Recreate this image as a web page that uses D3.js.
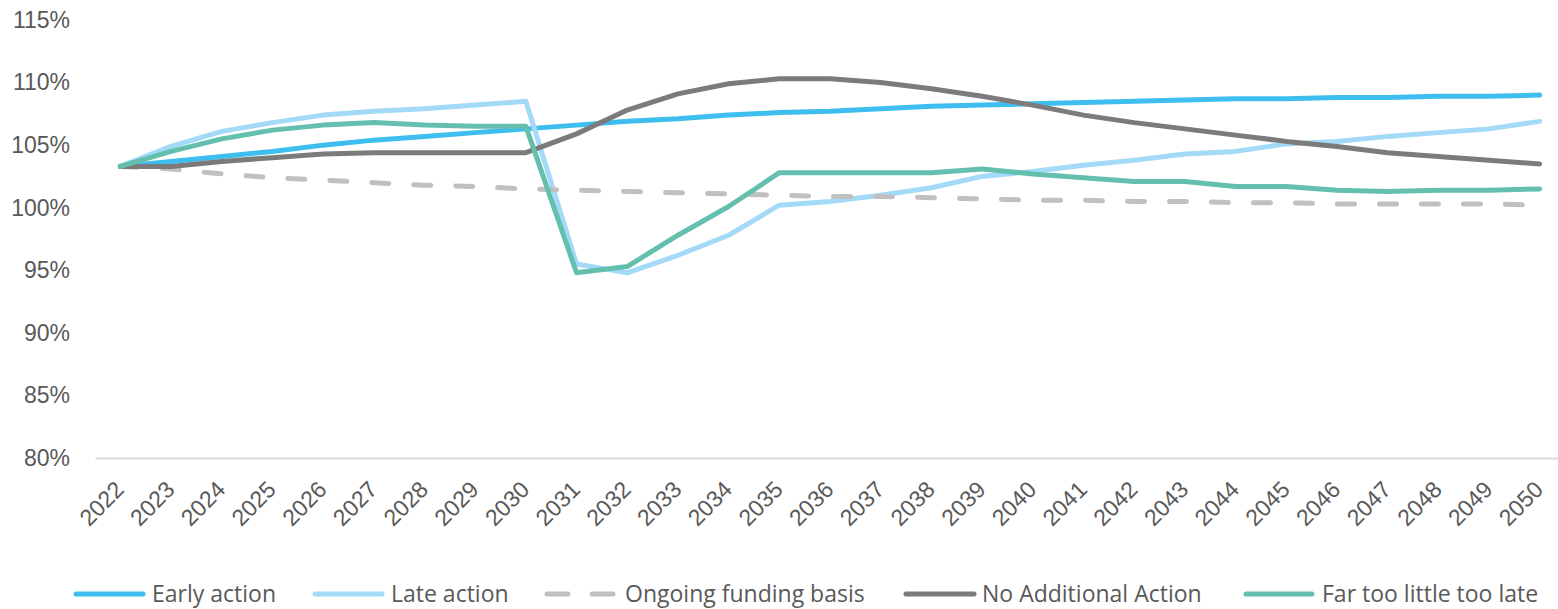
<!DOCTYPE html>
<html>
<head>
<meta charset="utf-8">
<script src="https://cdn.jsdelivr.net/npm/d3@7"></script>
<style>
  html, body { margin: 0; padding: 0; background: #fff; }
  svg { display: block; font-family: "Open Sans", "Noto Sans", sans-serif; }
</style>
</head>
<body>
<svg id="chart" width="1558" height="609"></svg>
<script>
// Funding level projections, 2022-2050
const years = d3.range(2022, 2051).map(String);

const earlyAction = [103.3, 103.7, 104.1, 104.5, 105.0, 105.4, 105.7, 106.0, 106.3, 106.6,
  106.9, 107.1, 107.4, 107.6, 107.7, 107.9, 108.1, 108.2, 108.3, 108.4,
  108.5, 108.6, 108.7, 108.7, 108.8, 108.8, 108.9, 108.9, 109.0];

const lateAction = [103.3, 104.9, 106.1, 106.8, 107.4, 107.7, 107.9, 108.2, 108.5, 95.5,
  94.8, 96.2, 97.8, 100.2, 100.5, 101.0, 101.6, 102.5, 102.9, 103.4,
  103.8, 104.3, 104.5, 105.1, 105.3, 105.7, 106.0, 106.3, 106.9];

const ongoingBasis = [103.3, 103.1, 102.7, 102.4, 102.2, 102.0, 101.8, 101.7, 101.5, 101.4,
  101.3, 101.2, 101.1, 101.0, 100.9, 100.9, 100.8, 100.7, 100.6, 100.6,
  100.5, 100.5, 100.4, 100.4, 100.3, 100.3, 100.3, 100.3, 100.2];

const noAdditional = [103.3, 103.3, 103.7, 104.0, 104.3, 104.4, 104.4, 104.4, 104.4, 105.9,
  107.8, 109.1, 109.9, 110.3, 110.3, 110.0, 109.5, 108.9, 108.2, 107.4,
  106.8, 106.3, 105.8, 105.3, 104.9, 104.4, 104.1, 103.8, 103.5];

const farTooLate = [103.3, 104.5, 105.5, 106.2, 106.6, 106.8, 106.6, 106.5, 106.5, 94.8,
  95.3, 97.8, 100.1, 102.8, 102.8, 102.8, 102.8, 103.1, 102.7, 102.4,
  102.1, 102.1, 101.7, 101.7, 101.4, 101.3, 101.4, 101.4, 101.5];

const yTicks = [80, 85, 90, 95, 100, 105, 110, 115];

const series = [
  { name: "Early action", values: earlyAction, color: "#3EBEEE", dash: null },
  { name: "Late action", values: lateAction, color: "#A3DAF7", dash: null },
  { name: "Ongoing funding basis", values: ongoingBasis, color: "#C0C0C0", dash: "17,25" },
  { name: "No Additional Action", values: noAdditional, color: "#7B7B7B", dash: null },
  { name: "Far too little too late", values: farTooLate, color: "#64BFAF", dash: null }
];

const svg = d3.select("#chart");
const plot = { left: 95, right: 1565, top: 20, bottom: 458 };

const x = d3.scaleBand().domain(years).range([plot.left, plot.right]);
const y = d3.scaleLinear().domain([80, 115]).range([plot.bottom, plot.top]);

const textColor = "#595959";
const fontSize = "23px";

// Y axis labels (no axis line)
const yAxis = svg.append("g")
  .attr("transform", `translate(${plot.left},0)`)
  .call(d3.axisLeft(y).tickValues(yTicks).tickSize(0).tickPadding(25)
    .tickFormat(d => d + "%"));
yAxis.select(".domain").remove();
yAxis.selectAll("text").attr("fill", textColor).style("font-size", fontSize);

// X axis baseline and rotated year labels
const xAxis = svg.append("g")
  .attr("transform", `translate(0,${plot.bottom})`)
  .call(d3.axisBottom(x).tickSize(0).tickPadding(0));
xAxis.select(".domain").attr("stroke", "#D9D9D9").attr("stroke-width", 2);
xAxis.selectAll("text")
  .attr("fill", textColor)
  .style("font-size", fontSize)
  .attr("text-anchor", "end")
  .attr("dy", null)
  .attr("transform", "translate(5,33) rotate(-45)");

// Series lines
const line = d3.line()
  .x((d, i) => x(years[i]) + x.bandwidth() / 2)
  .y(d => y(d));

svg.append("g").selectAll("path")
  .data(series)
  .join("path")
  .attr("d", d => line(d.values))
  .attr("fill", "none")
  .attr("stroke", d => d.color)
  .attr("stroke-width", 5)
  .attr("stroke-linecap", "round")
  .attr("stroke-linejoin", "round")
  .attr("stroke-dasharray", d => d.dash);

// Legend: swatch segments and label start, per entry
const legendSegs = [
  [[76, 143]],
  [[315, 382]],
  [[547, 568], [592, 613]],
  [[906, 974]],
  [[1246, 1312]]
];
const legendTextX = [152, 391, 625, 982, 1322];
const legend = svg.append("g").attr("transform", "translate(0,594)");
series.forEach((s, i) => {
  const g = legend.append("g");
  legendSegs[i].forEach(([a, b]) => {
    g.append("line").attr("x1", a).attr("x2", b).attr("y1", 0).attr("y2", 0)
      .attr("stroke", s.color).attr("stroke-width", 5).attr("stroke-linecap", "round");
  });
  g.append("text").attr("x", legendTextX[i]).attr("y", 8)
    .attr("fill", textColor).style("font-size", fontSize).text(s.name);
});
</script>
</body>
</html>
